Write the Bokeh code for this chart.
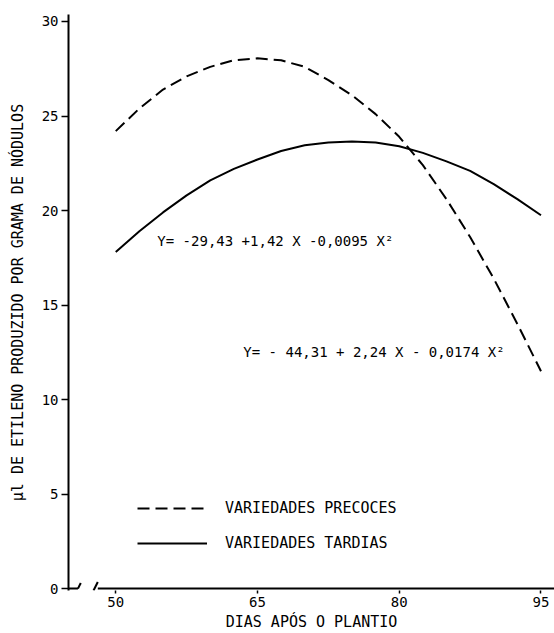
from bokeh.plotting import figure
from bokeh.models import Label, Legend, LegendItem, FixedTicker, Range1d
from bokeh.embed import file_html
from bokeh.resources import INLINE

# ---- data ----
dias = [50, 52.5, 55, 57.5, 60, 62.5, 65, 67.5, 70, 72.5, 75, 77.5, 80, 82.5, 85, 87.5, 90, 92.5, 95]
precoces = [24.2, 25.4, 26.4, 27.1, 27.6, 27.95, 28.05, 27.95, 27.6, 26.9, 26.1, 25.1, 23.9, 22.4, 20.6, 18.6, 16.4, 14.0, 11.5]
tardias = [17.8, 18.9, 19.9, 20.8, 21.6, 22.2, 22.7, 23.15, 23.45, 23.6, 23.65, 23.6, 23.4, 23.05, 22.6, 22.1, 21.4, 20.6, 19.75]
x_ticks = [50, 65, 80, 95]
y_ticks = [0, 5, 10, 15, 20, 25, 30]
eq_precoces = "Y= - 44,31 + 2,24 X - 0,0174 X²"
eq_tardias = "Y= -29,43 +1,42 X -0,0095 X²"
legend_labels = ["VARIEDADES PRECOCES", "VARIEDADES TARDIAS"]
x_title = "DIAS APÓS O PLANTIO"
y_title = "µl DE ETILENO PRODUZIDO POR GRAMA DE NÓDULOS"

FONT = "DejaVu Sans Mono"

p = figure(width=554, height=633,
           x_range=Range1d(45, 96.43), y_range=Range1d(-0.1, 30.37),
           output_backend="svg", toolbar_location=None,
           min_border_left=68, min_border_right=0,
           min_border_top=14, min_border_bottom=40)
p.outline_line_color = None
p.grid.visible = False
p.background_fill_color = "white"
p.border_fill_color = "white"

# axes
p.xaxis.ticker = FixedTicker(ticks=x_ticks)
p.yaxis.ticker = FixedTicker(ticks=y_ticks)
for ax in (p.xaxis, p.yaxis):
    ax.minor_tick_line_color = None
    ax.major_tick_in = 0
    ax.major_tick_line_color = "black"
    ax.major_tick_line_width = 1.5
    ax.major_label_text_font = FONT
    ax.major_label_text_font_size = "14px"
    ax.major_label_text_color = "black"
    ax.axis_label_text_font = FONT
    ax.axis_label_text_font_size = "15px"
    ax.axis_label_text_font_style = "normal"
    ax.axis_label_text_color = "black"
p.xaxis.axis_line_color = None
p.xaxis.major_tick_out = 3
p.xaxis.major_label_standoff = 3
p.xaxis.axis_label = x_title
p.xaxis.axis_label_standoff = 3
p.yaxis.axis_line_color = "black"
p.yaxis.axis_line_width = 2
p.yaxis.major_tick_out = 7
p.yaxis.major_label_standoff = 3
p.yaxis.axis_label = y_title
p.yaxis.axis_label_standoff = 12

# x axis line with break marks
p.segment(x0=[45, 46.0, 47.65, 48.1], y0=[0, 0, -0.1, 0],
          x1=[46.0, 46.3, 48.1, 96.43], y1=[0, 0.3, 0.35, 0],
          line_color="black", line_width=2)

# curves
r1 = p.line(dias, precoces, line_color="black", line_width=2, line_dash="12 6")
r2 = p.line(dias, tardias, line_color="black", line_width=2)

# equations
p.add_layout(Label(x=54.4, y=18.37, text=eq_tardias, text_baseline="middle",
                   text_font=FONT, text_font_size="14px", text_color="black"))
p.add_layout(Label(x=63.5, y=12.5, text=eq_precoces, text_baseline="middle",
                   text_font=FONT, text_font_size="14px", text_color="black"))

legend = Legend(items=[LegendItem(label=legend_labels[0], renderers=[r1]),
                       LegendItem(label=legend_labels[1], renderers=[r2])],
                location=(69, 37), glyph_width=70, glyph_height=20,
                label_standoff=18, spacing=15, padding=0, margin=0,
                border_line_color=None, background_fill_alpha=0,
                label_text_font=FONT, label_text_font_size="15px",
                label_text_color="black")
p.add_layout(legend)

open("out.html", "w").write(file_html(p, INLINE))
